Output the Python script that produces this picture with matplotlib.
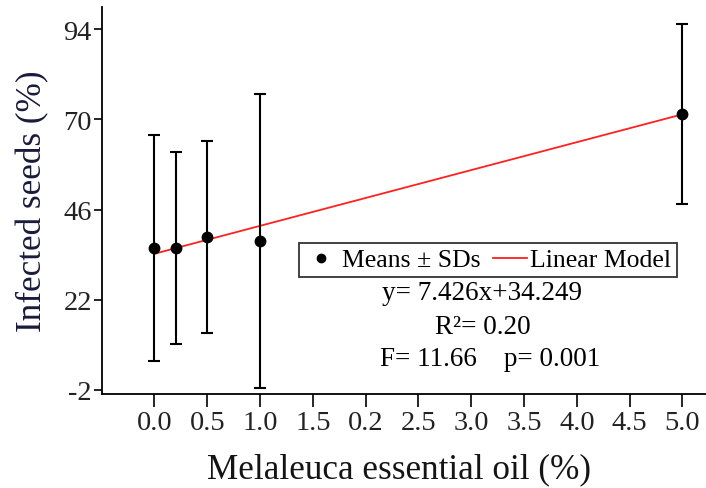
import matplotlib
matplotlib.use("Agg")
import matplotlib.pyplot as plt
from matplotlib.lines import Line2D
import numpy as np

# oil concentration (%), mean infected seeds (%), SD
conc = [0.0, 0.2, 0.5, 1.0, 5.0]
means = [35.8, 35.8, 38.7, 37.7, 71.5]
sds = [30.0, 25.5, 25.5, 39.1, 24.0]

slope = 7.426
intercept = 34.249

x_ticks = [0.0, 0.5, 1.0, 1.5, 2.0, 2.5, 3.0, 3.5, 4.0, 4.5, 5.0]
x_labels = ["0.0", "0.5", "1.0", "1.5", "0.2", "2.5", "3.0", "3.5", "4.0", "4.5", "5.0"]
y_ticks = [-2, 22, 46, 70, 94]

plt.rcParams['font.family'] = ['Liberation Serif', 'DejaVu Serif']
plt.rcParams['axes.unicode_minus'] = False

fig = plt.figure(figsize=(7.06, 4.89), dpi=100)
ax = fig.add_axes([0.144, 0.193, 0.86, 0.791])

xl = np.array([0.0, 5.0])
line, = ax.plot(xl, slope * xl + intercept, color='#ff2020', lw=1.3, zorder=2)
ax.errorbar(conc, means, yerr=sds, fmt='o', color='black', ms=7.5,
            elinewidth=1.5, capsize=4.5, capthick=1.5, zorder=3)

ax.set_xlim(-0.5, 5.25)
ax.set_ylim(-3, 100)
ax.set_xticks(x_ticks)
ax.set_xticklabels(x_labels)
ax.set_yticks(y_ticks)
ax.tick_params(axis='x', length=9, width=1.2, labelsize=20.5, colors='black',
               labelcolor='#222222', pad=3)
ax.tick_params(axis='y', length=6, width=1.2, labelsize=20.5, colors='black',
               labelcolor='#222222', pad=1)
for s in ['top', 'right']:
    ax.spines[s].set_visible(False)
for s in ['left', 'bottom']:
    ax.spines[s].set_linewidth(1.3)

ax.set_xlabel("Melaleuca essential oil (%)", fontsize=25.3, color='#141414', labelpad=12)
ax.xaxis.label.set_x(0.49)
ax.set_ylabel("Infected seeds (%)", fontsize=25.3, color='#1a1a3a', labelpad=10)

# legend: plain dot for the means, red line for the fit
dot = Line2D([], [], marker='o', ls='none', color='black', ms=6)
leg = ax.legend([dot, line], ["Means ± SDs", "Linear Model"], ncol=2,
                loc='center', bbox_to_anchor=(488 / 706, 1 - 261 / 489),
                bbox_transform=fig.transFigure, fontsize=18.5, frameon=True,
                fancybox=False, edgecolor='black', handlelength=1.3,
                handletextpad=0.15, columnspacing=0.5, borderpad=0.2,
                borderaxespad=0)
leg.get_frame().set_linewidth(1.3)

fig.text(482 / 706, 1 - 294 / 489, "y= 7.426x+34.249", fontsize=19.5,
         ha='center', va='center')
fig.text(483 / 706, 1 - 328 / 489, "R²= 0.20", fontsize=19.5,
         ha='center', va='center')
fig.text(490 / 706, 1 - 359 / 489, "F= 11.66    p= 0.001", fontsize=19.5,
         ha='center', va='center')

fig.savefig("out.png", dpi=100)
